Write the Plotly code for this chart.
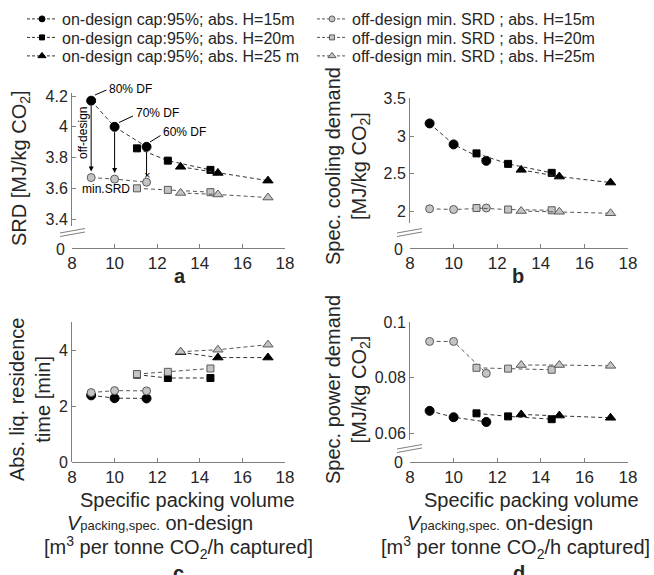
import plotly.graph_objects as go

# ---------------- data ----------------
x15 = [8.9, 10.0, 11.5]
x20 = [11.05, 12.5, 14.5]
x25 = [13.1, 14.85, 17.2]

# a: SRD [MJ/kg CO2]
srd_on15 = [4.17, 4.00, 3.87]
srd_on20 = [3.86, 3.78, 3.72]
srd_on25 = [3.74, 3.70, 3.65]
srd_off15 = [3.67, 3.66, 3.64]
srd_off20 = [3.60, 3.59, 3.575]
srd_off25 = [3.57, 3.56, 3.54]

# b: spec. cooling demand [MJ/kg CO2]
cool_on15 = [3.17, 2.89, 2.67]
cool_on20 = [2.77, 2.63, 2.51]
cool_on25 = [2.55, 2.46, 2.38]
cool_off15 = [2.03, 2.02, 2.04]
cool_off20 = [2.04, 2.02, 2.01]
cool_off25 = [2.00, 1.99, 1.97]

# c: abs. liq. residence time [min]
res_on15 = [2.38, 2.28, 2.27]
res_on20 = [3.12, 3.00, 3.00]
res_on25 = [3.92, 3.73, 3.73]
res_off15 = [2.48, 2.55, 2.54]
res_off20 = [3.14, 3.22, 3.34]
res_off25 = [3.94, 4.01, 4.19]

# d: spec. power demand [MJ/kg CO2]
pow_on15 = [0.068, 0.0657, 0.064]
pow_on20 = [0.0671, 0.066, 0.065]
pow_on25 = [0.0667, 0.0663, 0.0655]
pow_off15 = [0.093, 0.093, 0.0815]
pow_off20 = [0.0835, 0.0832, 0.0828]
pow_off25 = [0.0845, 0.0845, 0.0842]

names_on = ["on-design cap:95%; abs. H=15m", "on-design cap:95%; abs. H=20m",
            "on-design cap:95%; abs. H=25 m"]
names_off = ["off-design min. SRD ; abs. H=15m", "off-design min. SRD ; abs. H=20m",
             "off-design min. SRD ; abs. H=25m"]

a_ticks = [3.4, 3.6, 3.8, 4.0, 4.2]
a_ticktext = ["3.4", "3.6", "3.8", "4", "4.2"]
b_ticks = [2.0, 2.5, 3.0, 3.5]
b_ticktext = ["2", "2.5", "3", "3.5"]
c_ticks = [0, 2, 4]
d_ticks = [0.06, 0.08, 0.1]
d_ticktext = ["0.06", "0.08", "0.1"]
x_ticks = [8, 10, 12, 14, 16, 18]

# ---------------- styling ----------------
W, H = 654, 575
FONT = "Liberation Sans, Arial, sans-serif"
TXT = "#262626"
AX = "#808080"
ON_LINE = "#333333"
OFF_LINE = "#555555"
OFF_FILL = "#c4c4c4"
OFF_EDGE = "#5a5a5a"
symbols = ["circle", "square", "triangle-up"]
on_sizes = [9, 7, 9]
off_sizes = [8, 7, 9]
leg_sizes = [6, 5, 7]
DASH = "4px,3px"
legend_ids = ["legend", "legend2", "legend3"]


def px(x):
    return x / W


def py(y):
    return 1 - y / H


fig = go.Figure()

panels = [
    ("x", "y", [srd_on15, srd_on20, srd_on25], [srd_off15, srd_off20, srd_off25]),
    ("x2", "y2", [cool_on15, cool_on20, cool_on25], [cool_off15, cool_off20, cool_off25]),
    ("x3", "y3", [res_on15, res_on20, res_on25], [res_off15, res_off20, res_off25]),
    ("x4", "y4", [pow_on15, pow_on20, pow_on25], [pow_off15, pow_off20, pow_off25]),
]
xs = [x15, x20, x25]

for xa, ya, ons, offs in panels:
    for i in range(3):
        fig.add_trace(go.Scatter(
            x=xs[i], y=ons[i], xaxis=xa, yaxis=ya, mode="lines+markers",
            name=names_on[i], showlegend=False,
            line=dict(color=ON_LINE, width=1, dash=DASH),
            marker=dict(symbol=symbols[i], size=on_sizes[i], color="black",
                        line=dict(color="black", width=1)),
            cliponaxis=False))
    for i in range(3):
        fig.add_trace(go.Scatter(
            x=xs[i], y=offs[i], xaxis=xa, yaxis=ya, mode="lines+markers",
            name=names_off[i], showlegend=False,
            line=dict(color=OFF_LINE, width=1, dash=DASH),
            marker=dict(symbol=symbols[i], size=off_sizes[i], color=OFF_FILL,
                        line=dict(color=OFF_EDGE, width=1)),
            cliponaxis=False))

# legend-only entries (smaller symbols, as in the reference legend)
for i in range(3):
    fig.add_trace(go.Scatter(
        x=[None], y=[None], mode="lines+markers", name=names_on[i],
        legend=legend_ids[i], legendrank=1, showlegend=True,
        line=dict(color=ON_LINE, width=1, dash="3px,2px"),
        marker=dict(symbol=symbols[i], size=leg_sizes[i], color="black",
                    line=dict(color="black", width=1))))
    fig.add_trace(go.Scatter(
        x=[None], y=[None], mode="lines+markers", name=names_off[i],
        legend=legend_ids[i], legendrank=2, showlegend=True,
        line=dict(color=OFF_LINE, width=1, dash="3px,2px"),
        marker=dict(symbol=symbols[i], size=leg_sizes[i], color=OFF_FILL,
                    line=dict(color=OFF_EDGE, width=1))))

# ---------------- axes ----------------
xl = [px(72), px(285)]
xr = [px(410), px(628)]


def xaxis(dom, pos_px):
    return dict(domain=dom, anchor="free", position=py(pos_px), range=[8, 18], tickvals=x_ticks,
                showline=True, linecolor=AX, linewidth=1, ticks="inside",
                ticklen=4, tickcolor=AX, showgrid=False, zeroline=False,
                tickfont=dict(size=17, color=TXT, family=FONT), mirror=False)


def yaxis(dom, anchor, rng, tv, tt=None):
    d = dict(domain=dom, anchor=anchor, range=rng, tickvals=tv,
             showline=True, linecolor=AX, linewidth=1, ticks="inside",
             ticklen=4, tickcolor=AX, showgrid=False, zeroline=False,
             tickfont=dict(size=16, color=TXT, family=FONT))
    if tt is not None:
        d["ticktext"] = tt
    return d


fig.update_layout(
    xaxis=xaxis(xl, 248),
    xaxis2=xaxis(xr, 248),
    xaxis3=xaxis(xl, 462),
    xaxis4=xaxis(xr, 462),
    yaxis=yaxis([py(226), py(93)], "x", [3.355, 4.22], a_ticks, a_ticktext),
    yaxis2=yaxis([py(223), py(98)], "x2", [1.84, 3.51], b_ticks, b_ticktext),
    yaxis3=yaxis([py(462), py(322)], "x3", [0, 5], c_ticks),
    yaxis4=yaxis([py(440), py(322)], "x4", [0.0575, 0.1], d_ticks, d_ticktext),
)

# ---------------- break marks & leader lines ----------------
shapes = []
for (x0, yb) in [(60, 233), (397, 233), (397, 449)]:
    for off in (0, 3.5):
        shapes.append(dict(type="line", xref="paper", yref="paper",
                           x0=px(x0), y0=py(yb + off), x1=px(x0 + 25), y1=py(yb + off - 4.5),
                           line=dict(color=AX, width=1)))
for (a0, b0, a1, b1) in [(95, 95, 106.5, 90), (119, 122.5, 133, 116), (150, 142, 160.5, 135.5)]:
    shapes.append(dict(type="line", xref="paper", yref="paper",
                       x0=px(a0), y0=py(b0), x1=px(a1), y1=py(b1),
                       line=dict(color="black", width=1)))
fig.update_layout(shapes=shapes)

# ---------------- annotations ----------------
ann = []


def txt(x, y, s, size=20, angle=0, xanchor="center", bold=False, color=TXT):
    ann.append(dict(x=px(x), y=py(y), xref="paper", yref="paper", text=("<b>%s</b>" % s) if bold else s,
                    showarrow=False, textangle=angle, xanchor=xanchor, yanchor="middle",
                    font=dict(size=size, color=color, family=FONT)))


# broken-axis zero labels
txt(67, 249, "0", size=16, xanchor="right")
txt(405, 249, "0", size=16, xanchor="right")
txt(405, 462, "0", size=16, xanchor="right")

# y-axis titles
txt(20, 168, "SRD [MJ/kg CO<sub>2</sub>]", angle=-90)
txt(347, 166, "Spec. cooling demand<br>[MJ/kg CO<sub>2</sub>]", angle=-90)
txt(30, 400, "Abs. liq. residence<br>time [min]", angle=-90)
txt(347, 390, "Spec. power demand<br>[MJ/kg CO<sub>2</sub>]", angle=-90)

# x titles for c, d
for c1, c2, c3 in ((187, 160, 178), (531, 500, 515)):
    txt(c1, 500, "Specific packing volume")
    txt(c2, 523, "<i>V</i><span style='font-size:13px'>packing,spec.</span> on-design")
    txt(c3, 547, "[m<sup>3</sup> per tonne CO<sub>2</sub>/h captured]")

# panel letters
txt(180, 276, "a", bold=True)
txt(518, 276, "b", bold=True)
txt(178, 573, "c", bold=True)
txt(519, 573, "d", bold=True)

# panel a callouts
txt(107, 89, "80% DF", size=12, xanchor="left", color="black")
txt(134, 113, "70% DF", size=12, xanchor="left", color="black")
txt(161, 132, "60% DF", size=12, xanchor="left", color="black")
txt(83, 133, "off-design", size=12, angle=-90, color="black")
txt(106, 189, "min.SRD", size=12, color="black")

# arrows from on-design to off-design points (panel a)
for i in range(3):
    ann.append(dict(xref="x", yref="y", axref="x", ayref="y",
                    x=x15[i], y=srd_off15[i] + 0.04,
                    ax=x15[i], ay=srd_on15[i] - 0.025,
                    text="", showarrow=True,
                    arrowhead=2 if i < 2 else 0, arrowsize=1, arrowwidth=1,
                    arrowcolor="black"))
ann.append(dict(xref="x", yref="y", x=x15[2], y=srd_off15[2] + 0.045, text="×",
                showarrow=False, font=dict(size=11, color="black", family=FONT)))

fig.update_layout(annotations=ann)

leg_common = dict(orientation="h", x=px(22), xanchor="left", yanchor="middle",
                  entrywidth=245, entrywidthmode="pixels", tracegroupgap=0,
                  font=dict(size=16, color=TXT, family=FONT),
                  bgcolor="rgba(0,0,0,0)", itemwidth=30)

fig.update_layout(
    width=W, height=H,
    margin=dict(l=0, r=0, t=0, b=0, pad=0, autoexpand=False),
    paper_bgcolor="white", plot_bgcolor="white",
    font=dict(family=FONT, color=TXT),
    legend=dict(leg_common, y=py(19)),
    legend2=dict(leg_common, y=py(37.5)),
    legend3=dict(leg_common, y=py(56)),
)

fig.write_html("out.html", config={"displayModeBar": False},
               post_script="document.body.style.margin='0px';")
